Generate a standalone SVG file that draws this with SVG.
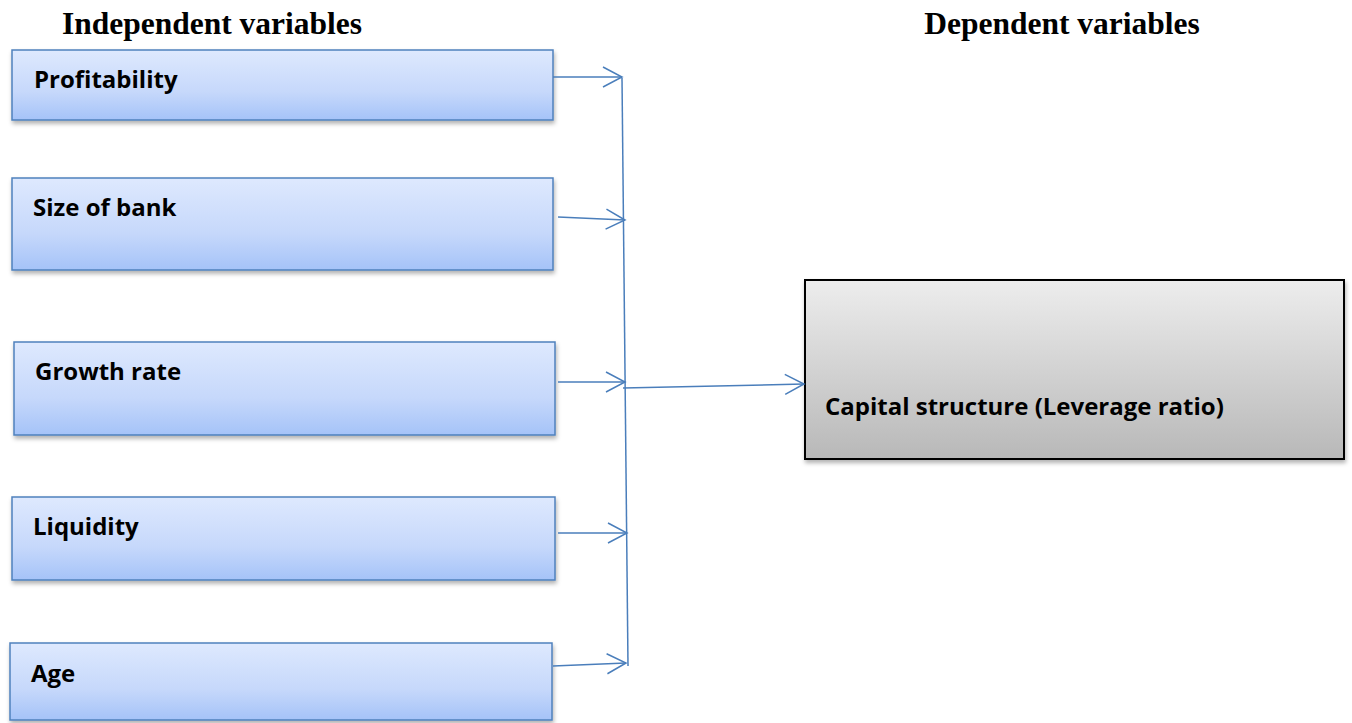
<svg xmlns="http://www.w3.org/2000/svg" width="1352" height="723" viewBox="0 0 1352 723">
<style>
.title{font-family:"Liberation Serif",serif;font-weight:bold;font-size:31.5px;fill:#000}
.lbl{font-family:"Open Sans","Liberation Sans",sans-serif;font-weight:bold;font-size:24px;fill:#000}
.iv{fill:url(#gBlue);stroke:#4f81bd;stroke-width:1.5;filter:url(#sh)}
.dv{fill:url(#gGray);stroke:#000;stroke-width:2;filter:url(#sh)}
.con{fill:none;stroke:#4a7ebb;stroke-width:1.5}
</style>
<defs>
<linearGradient id="gBlue" x1="0" y1="0" x2="0" y2="1">
<stop offset="0" stop-color="#dee9fe"/>
<stop offset="0.6" stop-color="#c6d8fb"/>
<stop offset="1" stop-color="#a5c3f8"/>
</linearGradient>
<linearGradient id="gGray" x1="0" y1="0" x2="0" y2="1">
<stop offset="0" stop-color="#ededed"/>
<stop offset="1" stop-color="#b8b8b8"/>
</linearGradient>
<filter id="sh" x="-5%" y="-10%" width="110%" height="130%">
<feDropShadow dx="1" dy="3" stdDeviation="2" flood-color="#000" flood-opacity="0.3"/>
</filter>
<marker id="ah" markerWidth="24" markerHeight="24" refX="21" refY="12" orient="auto" markerUnits="userSpaceOnUse">
<path d="M2,2 L21,12 L2,22" fill="none" stroke="#4a7ebb" stroke-width="1.5"/>
</marker>
</defs>
<rect width="1352" height="723" fill="#fff"/>
<text class="title" x="212" y="34" text-anchor="middle">Independent variables</text>
<text class="title" x="1062" y="34" text-anchor="middle">Dependent variables</text>
<g id="n1"><rect class="iv" x="12" y="50" width="541" height="70"/><text class="lbl" x="34" y="88">Profitability</text></g>
<g id="n2"><rect class="iv" x="12" y="178" width="541" height="92"/><text class="lbl" x="33" y="216">Size of bank</text></g>
<g id="n3"><rect class="iv" x="14" y="342" width="541" height="93"/><text class="lbl" x="35" y="380">Growth rate</text></g>
<g id="n4"><rect class="iv" x="12" y="497" width="543" height="83"/><text class="lbl" x="33" y="535">Liquidity</text></g>
<g id="n5"><rect class="iv" x="10" y="643" width="542" height="77"/><text class="lbl" x="31" y="682">Age</text></g>
<g id="n6"><rect class="dv" x="805" y="280" width="539" height="179"/><text class="lbl" x="825" y="415">Capital structure (Leverage ratio)</text></g>
<g id="connectors">
<line class="con" x1="622" y1="78" x2="628" y2="666"/>
<line class="con" x1="553" y1="77" x2="622" y2="77" marker-end="url(#ah)"/>
<line class="con" x1="558" y1="217" x2="625" y2="220" marker-end="url(#ah)"/>
<line class="con" x1="558" y1="382" x2="625" y2="382" marker-end="url(#ah)"/>
<line class="con" x1="558" y1="533" x2="627" y2="533" marker-end="url(#ah)"/>
<line class="con" x1="553" y1="666" x2="626" y2="663" marker-end="url(#ah)"/>
<line class="con" x1="623" y1="388" x2="804" y2="384" marker-end="url(#ah)"/>
</g>
</svg>
